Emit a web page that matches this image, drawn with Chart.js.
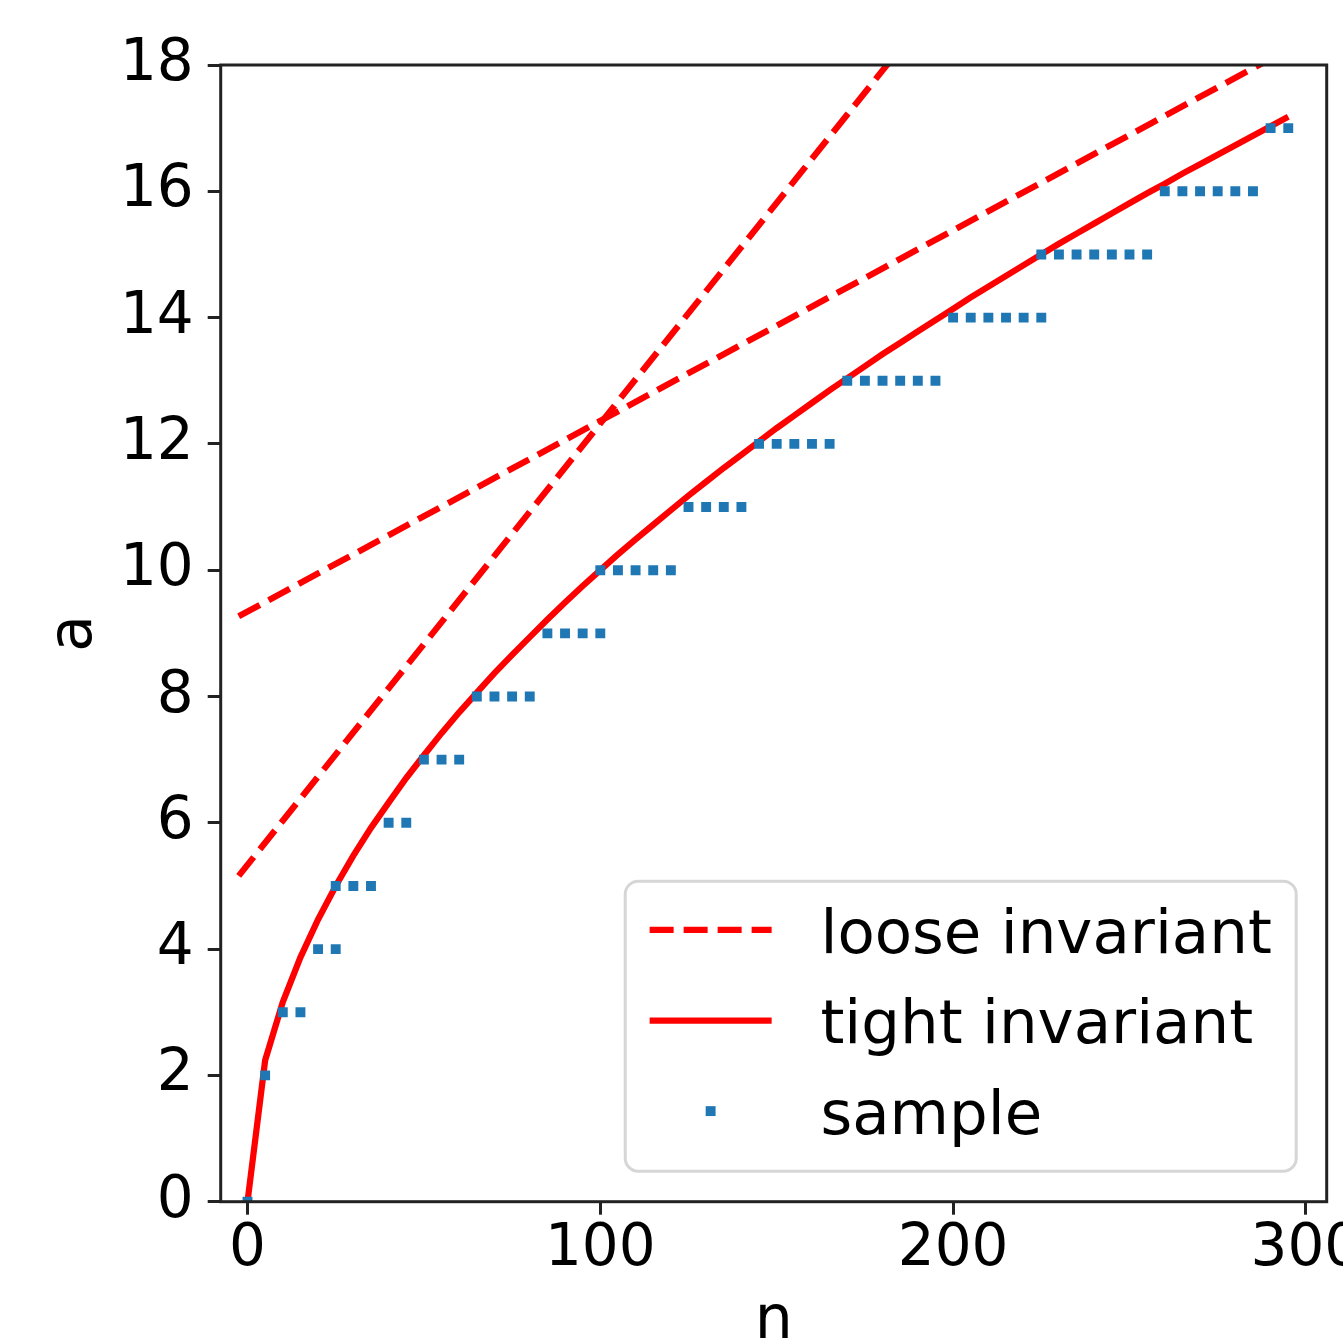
<!DOCTYPE html>
<html><head><meta charset="utf-8">
<script src="https://cdn.jsdelivr.net/npm/chart.js@4.4.0/dist/chart.umd.min.js"></script>
<style>
html,body{margin:0;padding:0;overflow:hidden;background:#fff;width:1343px;height:1343px}
canvas{display:block}
</style></head>
<body><canvas id="c" width="1400" height="1400"></canvas>
<script>
// ---- data ----
const xTickValues = [0, 100, 200, 300];
const yTickValues = [0, 2, 4, 6, 8, 10, 12, 14, 16, 18];

const tightN = [0,5,10,15,20,25,30,35,40,45,50,55,60,65,70,75,80,85,90,95,100,105,110,115,120,125,130,135,140,145,150,155,160,165,170,175,180,185,190,195,200,205,210,215,220,225,230,235,240,245,250,255,260,265,270,275,280,285,290,295];
const tightA = [0,2.24,3.16,3.87,4.47,5.00,5.48,5.92,6.32,6.71,7.07,7.42,7.75,8.06,8.37,8.66,8.94,9.22,9.49,9.75,10.00,10.25,10.49,10.72,10.95,11.18,11.40,11.62,11.83,12.04,12.25,12.45,12.65,12.85,13.04,13.23,13.42,13.60,13.78,13.96,14.14,14.32,14.49,14.66,14.83,15.00,15.17,15.33,15.49,15.65,15.81,15.97,16.12,16.28,16.43,16.58,16.73,16.88,17.03,17.18];

const looseN = [-2.5, 295];
const looseA1 = [9.27, 18.25];
const looseA2 = [5.16, 25.95];

const sampleN = [0,5,10,15,20,25,25,30,35,40,45,50,55,60,65,70,75,80,85,90,95,100,100,105,110,115,120,125,130,135,140,145,150,155,160,165,170,175,180,185,190,195,200,205,210,215,220,225,225,230,235,240,245,250,255,260,265,270,275,280,285,290,295];
const sampleA = [0,2,3,3,4,4,5,5,5,6,6,7,7,7,8,8,8,8,9,9,9,9,10,10,10,10,10,11,11,11,11,12,12,12,12,12,13,13,13,13,13,13,14,14,14,14,14,14,15,15,15,15,15,15,15,16,16,16,16,16,16,17,17];

const zip = (xs, ys) => xs.map((x, i) => ({x, y: ys[i]}));
const FONT = '"DejaVu Sans", "Liberation Sans", sans-serif';

const frameLegend = {
  id: 'frameLegend',
  afterDatasetsDraw(chart) {
    const {ctx, chartArea: a} = chart;
    ctx.save();
    // spines
    ctx.strokeStyle = '#222';
    ctx.lineWidth = 3;
    ctx.strokeRect(a.left, a.top, a.right - a.left, a.bottom - a.top);

    // legend (matplotlib style, lower right)
    const fs = 61;
    ctx.font = fs + 'px ' + FONT;
    const seen = new Set(), items = [];
    chart.data.datasets.forEach(ds => { if (!seen.has(ds.label)) { seen.add(ds.label); items.push(ds); } });
    const pad = 0.4 * fs, hLen = 2 * fs, hPad = 0.8 * fs, step = 1.485 * fs, axPad = 0.5 * fs;
    const tw = Math.max(...items.map(d => ctx.measureText(d.label).width));
    const w = pad + hLen + hPad + tw + pad;
    const h = 2 * pad + 3 * 0.985 * fs + (items.length - 1) * 0.5 * fs;
    const right = a.right - axPad, bottom = a.bottom - axPad;
    const left = right - w, top = bottom - h;
    const r = 13;
    ctx.beginPath();
    ctx.moveTo(left + r, top);
    ctx.arcTo(right, top, right, bottom, r);
    ctx.arcTo(right, bottom, left, bottom, r);
    ctx.arcTo(left, bottom, left, top, r);
    ctx.arcTo(left, top, right, top, r);
    ctx.closePath();
    ctx.fillStyle = 'rgba(255,255,255,0.8)';
    ctx.fill();
    ctx.strokeStyle = '#d6d6d6';
    ctx.lineWidth = 3;
    ctx.stroke();

    items.forEach((d, i) => {
      const hy = top + pad + 0.4 * fs + i * step;
      const hx = left + pad;
      if (d.showLine) {
        ctx.beginPath();
        ctx.setLineDash(d.borderDash || []);
        ctx.strokeStyle = d.borderColor;
        ctx.lineWidth = d.borderWidth;
        ctx.moveTo(hx, hy);
        ctx.lineTo(hx + hLen, hy);
        ctx.stroke();
        ctx.setLineDash([]);
      } else {
        const s = d.pointRadius * Math.SQRT1_2;
        ctx.fillStyle = d.backgroundColor;
        ctx.fillRect(hx + hLen / 2 - s, hy - s, 2 * s, 2 * s);
      }
      ctx.fillStyle = '#000';
      ctx.textBaseline = 'alphabetic';
      ctx.textAlign = 'left';
      ctx.fillText(d.label, hx + hLen + hPad, hy + 0.37 * fs);
    });
    ctx.restore();
  }
};

const tickGrid = {display: true, drawOnChartArea: false, drawTicks: true, tickLength: 13, tickWidth: 3, tickColor: '#222'};

new Chart(document.getElementById('c'), {
  type: 'scatter',
  data: {
    datasets: [
      {label: 'loose invariant', data: zip(looseN, looseA1), showLine: true, borderColor: '#ff0000', borderWidth: 6.25, borderDash: [24, 10], pointRadius: 0, clip: 0, order: 2},
      {label: 'loose invariant', data: zip(looseN, looseA2), showLine: true, borderColor: '#ff0000', borderWidth: 6.25, borderDash: [24, 10], pointRadius: 0, clip: 0, order: 2},
      {label: 'tight invariant', data: zip(tightN, tightA), showLine: true, borderColor: '#ff0000', borderWidth: 6.25, pointRadius: 0, clip: 0, order: 1},
      {label: 'sample', data: zip(sampleN, sampleA), showLine: false, backgroundColor: '#1f77b4', pointBackgroundColor: '#1f77b4', pointBorderWidth: 0, pointStyle: 'rect', pointRadius: 7, pointHoverRadius: 7, clip: 0, order: 0}
    ]
  },
  options: {
    responsive: false,
    animation: false,
    devicePixelRatio: 1,
    layout: {padding: {left: 0, top: 65, right: 73.3, bottom: 0}},
    plugins: {legend: {display: false}, tooltip: {enabled: false}},
    events: [],
    scales: {
      x: {
        type: 'linear', min: -7.6, max: 305.9,
        afterBuildTicks: s => { s.ticks = xTickValues.map(v => ({value: v})); },
        afterFit: s => { s.height = 198.3; },
        grid: tickGrid,
        border: {display: false},
        ticks: {font: {family: FONT, size: 58}, color: '#000', padding: 0, maxRotation: 0, autoSkip: false},
        title: {display: true, text: 'n', font: {family: FONT, size: 60}, color: '#000', padding: {top: 0, bottom: 42}}
      },
      y: {
        type: 'linear', min: 0, max: 18,
        afterBuildTicks: s => { s.ticks = yTickValues.map(v => ({value: v})); },
        afterFit: s => { s.width = 220.7; },
        grid: tickGrid,
        border: {display: false},
        ticks: {font: {family: FONT, size: 58}, color: '#000', padding: 14, autoSkip: false},
        title: {display: true, text: 'a', font: {family: FONT, size: 60}, color: '#000', padding: {top: 39.5, bottom: 0}}
      }
    }
  },
  plugins: [frameLegend]
});
</script>
</body></html>
